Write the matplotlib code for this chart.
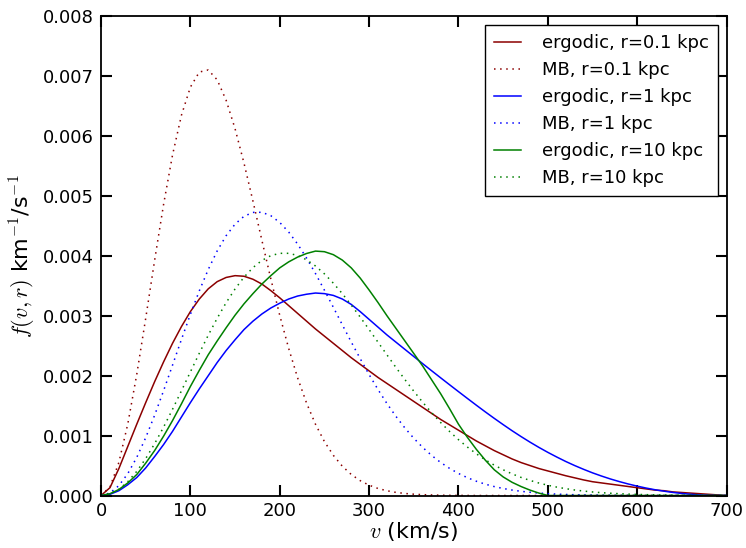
import matplotlib
matplotlib.use('Agg')
import matplotlib.pyplot as plt
import numpy as np

# velocity grid (km/s), 10 km/s steps
v = np.arange(0, 701, 10)

# ergodic distribution f(v,r)
erg_01 = [0, 0.00013, 0.00045, 0.00082, 0.00119, 0.00155, 0.00190, 0.00223, 0.00254, 0.00282,
          0.00307, 0.00328, 0.00345, 0.00357, 0.00364, 0.00367, 0.00366, 0.00361, 0.00353, 0.00342,
          0.00330, 0.00317, 0.00304, 0.00291, 0.00278, 0.00266, 0.00254, 0.00242, 0.00230, 0.00219,
          0.00208, 0.00197, 0.00187, 0.00177, 0.00167, 0.00157, 0.00147, 0.00137, 0.00127, 0.00118,
          0.00109, 0.00100, 0.00091, 0.00083, 0.00075, 0.00068, 0.00061, 0.00055, 0.00050, 0.00045,
          0.00041, 0.00037, 0.00033, 0.000295, 0.00026, 0.00023, 0.00021, 0.00019, 0.00017, 0.00015,
          0.00013, 0.00011, 0.00009, 0.00008, 0.00006, 0.00005, 0.00004, 0.00003, 0.00002, 0.00001,
          0.0]
erg_1 = [0, 0.00002, 0.00008, 0.00018, 0.00030, 0.00046, 0.00065, 0.00085, 0.00107, 0.00131,
         0.00155, 0.00178, 0.00200, 0.00222, 0.00242, 0.00260, 0.00277, 0.00291, 0.00303, 0.00313,
         0.00321, 0.00328, 0.00333, 0.00336, 0.00338, 0.00337, 0.00334, 0.00328, 0.00319, 0.00307,
         0.00294, 0.00281, 0.00268, 0.00256, 0.00244, 0.00232, 0.00220, 0.002082, 0.001965, 0.001849,
         0.001734, 0.001620, 0.001507, 0.001396, 0.001288, 0.001183, 0.001081, 0.000984, 0.000891, 0.000803,
         0.000720, 0.000642, 0.000568, 0.000500, 0.000437, 0.000378, 0.000325, 0.000276, 0.000232, 0.000192,
         0.000156, 0.000124, 0.000096, 0.000072, 0.000051, 0.000034, 0.000020, 0.000009, 0.000002, 0.0,
         0.0]
erg_10 = [0, 0.00003, 0.00010, 0.00021, 0.00035, 0.00054, 0.00075, 0.00099, 0.00125, 0.00153,
          0.00182, 0.00209, 0.00235, 0.00258, 0.00280, 0.00301, 0.00320, 0.00337, 0.00353, 0.00367,
          0.00380, 0.00390, 0.00398, 0.00404, 0.00408, 0.00407, 0.00402, 0.00393, 0.00380, 0.00363,
          0.00343, 0.00322, 0.00300, 0.00279, 0.00258, 0.00237, 0.00216, 0.00193, 0.00170, 0.00145,
          0.00119, 0.00097, 0.00077, 0.00059, 0.00043, 0.00031, 0.00022, 0.00015, 0.00009, 0.00004,
          0.0, 0.0, 0.0, 0.0, 0.0, 0.0, 0.0, 0.0, 0.0, 0.0,
          0.0, 0.0, 0.0, 0.0, 0.0, 0.0, 0.0, 0.0, 0.0, 0.0,
          0.0]

# Maxwell-Boltzmann curves
mb_01 = [0, 0.000141, 0.000552, 0.001197, 0.002022, 0.002956, 0.003927, 0.004858, 0.005683, 0.006348,
         0.006817, 0.007069, 0.007104, 0.006939, 0.006598, 0.006123, 0.005548, 0.004915, 0.004261, 0.003617,
         0.003007, 0.002455, 0.001964, 0.001543, 0.001189, 0.000900, 0.000670, 0.000489, 0.000351, 0.000248,
         0.000172, 0.000117, 0.000079, 0.000052, 0.000034, 0.000022, 0.000014, 0.000009, 0.000005, 0.000003,
         0.000002, 0.000001, 0, 0, 0, 0, 0, 0, 0, 0,
         0, 0, 0, 0, 0, 0, 0, 0, 0, 0,
         0, 0, 0, 0, 0, 0, 0, 0, 0, 0,
         0]
mb_1 = [0, 0.000042, 0.000165, 0.000366, 0.000636, 0.000965, 0.001340, 0.001749, 0.002175, 0.002605,
        0.003023, 0.003417, 0.003773, 0.004083, 0.004337, 0.004530, 0.004661, 0.004726, 0.004728, 0.004671,
        0.004558, 0.004398, 0.004197, 0.003964, 0.003705, 0.003427, 0.003141, 0.002850, 0.002563, 0.002285,
        0.002018, 0.001767, 0.001534, 0.001321, 0.001128, 0.000955, 0.000802, 0.000668, 0.000552, 0.000453,
        0.000368, 0.000297, 0.000238, 0.000189, 0.000149, 0.000117, 0.000091, 0.000070, 0.000054, 0.000041,
        0.000031, 0.000023, 0.000017, 0.000013, 0.000009, 0.000007, 0.000005, 0.000004, 0.000002, 0.000002,
        0.000001, 0, 0, 0, 0, 0, 0, 0, 0, 0,
        0]
mb_10 = [0, 0.000026, 0.000104, 0.000231, 0.000403, 0.000616, 0.000865, 0.001141, 0.001438, 0.001748,
         0.002063, 0.002375, 0.002676, 0.002959, 0.003219, 0.003448, 0.003645, 0.003804, 0.003924, 0.004004,
         0.004043, 0.004043, 0.004007, 0.003935, 0.003831, 0.003700, 0.003544, 0.003370, 0.003179, 0.002979,
         0.002770, 0.002558, 0.002347, 0.002138, 0.001936, 0.001741, 0.001556, 0.001381, 0.001219, 0.001069,
         0.000932, 0.000808, 0.000696, 0.000596, 0.000507, 0.000429, 0.000361, 0.000302, 0.000252, 0.000208,
         0.000171, 0.000140, 0.000114, 0.000092, 0.000074, 0.000059, 0.000047, 0.000038, 0.000030, 0.000023,
         0.000018, 0.000014, 0.000011, 0.000008, 0.000006, 0.000005, 0.000004, 0.000003, 0.000002, 0.000002,
         0.000001]

plt.rcParams['mathtext.fontset'] = 'cm'
plt.rcParams['font.family'] = 'DejaVu Sans'

fig = plt.figure(figsize=(7.46, 5.48), dpi=100)
ax = fig.add_axes([0.1354, 0.0958, 0.8386, 0.8745])

dots = (0, (1, 3))
ax.plot(v, erg_01, color='#8b0000', lw=1.1, label='ergodic, r=0.1 kpc')
ax.plot(v, mb_01, color='#8b0000', lw=1.1, linestyle=dots, label='MB, r=0.1 kpc')
ax.plot(v, erg_1, color='blue', lw=1.1, label='ergodic, r=1 kpc')
ax.plot(v, mb_1, color='blue', lw=1.1, linestyle=dots, label='MB, r=1 kpc')
ax.plot(v, erg_10, color='green', lw=1.1, label='ergodic, r=10 kpc')
ax.plot(v, mb_10, color='green', lw=1.1, linestyle=dots, label='MB, r=10 kpc')

ax.set_xlim(0, 700)
ax.set_ylim(0, 0.008)
ax.set_xticks(np.arange(0, 701, 100))
ax.set_yticks(np.arange(0, 0.0081, 0.001))
ax.tick_params(direction='in', length=8, width=1.5, top=True, right=True, labelsize=13, pad=5)
for s in ax.spines.values():
    s.set_linewidth(1.3)

ax.set_xlabel('$v$ (km/s)', fontsize=16, labelpad=0)
ax.set_ylabel('$f(v,r)$ km$^{-1}$/s$^{-1}$', fontsize=16, labelpad=4)

leg = ax.legend(loc='upper right', fontsize=13, fancybox=False, handlelength=1.5,
                borderaxespad=0.5, borderpad=0.5, labelspacing=0.5, handletextpad=1.15,
                framealpha=1)
leg.get_frame().set_edgecolor('black')
leg.get_frame().set_linewidth(1.0)

fig.savefig('out.png', dpi=100)
